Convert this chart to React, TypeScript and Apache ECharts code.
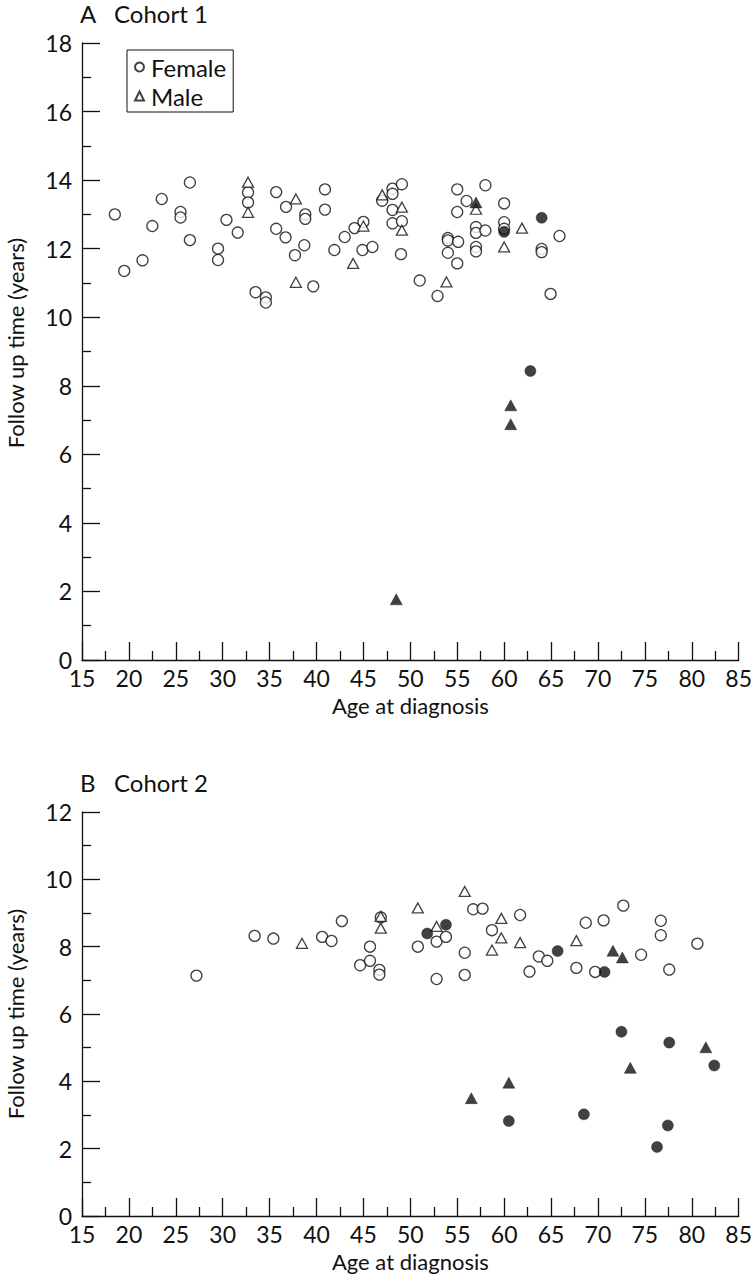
import React, { useEffect, useRef } from "react";
import * as echarts from "echarts";

// Cohort 1 (panel A): [age at diagnosis, follow up years]
const cohort1FemaleAlive: number[][] = [
  [18.5, 13.0], [19.5, 11.35], [21.45, 11.66], [22.5, 12.66], [23.5, 13.45], [25.5, 13.07], [25.5, 12.91],
  [26.5, 13.93], [26.5, 12.25], [29.5, 12.0], [29.5, 11.67], [30.4, 12.84], [31.6, 12.47], [32.7, 13.64],
  [32.7, 13.35], [33.5, 10.73], [34.6, 10.58], [34.6, 10.43], [35.7, 12.58], [35.7, 13.65], [36.75, 13.22],
  [36.7, 12.33], [37.7, 11.81], [38.8, 13.0], [38.8, 12.87], [38.7, 12.1], [39.65, 10.9], [40.9, 13.73],
  [40.9, 13.14], [41.9, 11.96], [43.0, 12.34], [44.05, 12.6], [45.0, 12.78], [44.9, 11.96], [45.96, 12.05],
  [47.0, 13.4], [48.1, 13.75], [48.1, 13.6], [49.1, 13.88], [48.1, 13.13], [48.1, 12.74], [49.1, 12.8],
  [49.0, 11.84], [51.0, 11.07], [52.9, 10.62], [54.0, 12.31], [54.0, 12.24], [55.1, 12.2], [54.0, 11.88],
  [55.0, 11.57], [55.0, 13.73], [56.0, 13.39], [55.0, 13.07], [58.0, 13.85], [57.0, 12.63], [57.0, 12.46],
  [58.0, 12.53], [57.0, 12.05], [57.0, 11.92], [60.0, 13.32], [60.0, 12.77], [60.0, 12.58], [64.0, 11.99],
  [64.0, 11.9], [65.9, 12.37], [64.95, 10.68],
];
const cohort1MaleAlive: number[][] = [
  [32.7, 13.94], [32.7, 13.06], [37.8, 13.45], [37.8, 11.02], [43.9, 11.57], [45.0, 12.66], [47.0, 13.57],
  [49.1, 13.21], [49.1, 12.54], [53.85, 11.03], [57.0, 13.15], [60.0, 12.05], [61.9, 12.6],
];
const cohort1FemaleDied: number[][] = [[60.0, 12.49], [64.0, 12.9], [62.8, 8.43]];
const cohort1MaleDied: number[][] = [[57.0, 13.35], [60.7, 7.43], [60.7, 6.88], [48.5, 1.77]];

// Cohort 2 (panel B)
const cohort2FemaleAlive: number[][] = [
  [27.2, 7.14], [33.4, 8.32], [35.4, 8.24], [40.6, 8.29], [41.6, 8.17], [42.7, 8.76], [44.65, 7.45],
  [45.7, 8.0], [45.7, 7.58], [46.85, 8.87], [46.7, 7.31], [46.7, 7.17], [50.8, 8.0], [52.8, 8.15],
  [53.8, 8.29], [52.8, 7.04], [56.7, 9.11], [57.7, 9.13], [55.8, 7.82], [55.8, 7.16], [58.7, 8.49],
  [61.7, 8.94], [62.7, 7.26], [63.7, 7.71], [64.6, 7.58], [68.7, 8.71], [70.6, 8.78], [72.7, 9.22],
  [67.7, 7.37], [69.7, 7.25], [74.6, 7.76], [76.7, 8.77], [76.7, 8.34], [77.6, 7.32], [80.6, 8.09],
];
const cohort2MaleAlive: number[][] = [
  [38.45, 8.1], [46.85, 8.9], [46.85, 8.55], [50.8, 9.15], [52.8, 8.6], [55.8, 9.64], [59.7, 8.84],
  [59.7, 8.26], [58.7, 7.9], [61.7, 8.12], [67.7, 8.18],
];
const cohort2FemaleDied: number[][] = [
  [51.8, 8.39], [53.8, 8.65], [65.7, 7.87], [70.7, 7.25], [72.5, 5.47], [77.6, 5.15], [82.4, 4.47],
  [60.5, 2.82], [68.5, 3.02], [77.45, 2.69], [76.3, 2.05],
];
const cohort2MaleDied: number[][] = [
  [71.6, 7.88], [72.6, 7.68], [81.5, 5.01], [73.45, 4.4], [60.5, 3.96], [56.5, 3.5],
];

const panelLetters = ["A", "B"];
const panelNames = ["Cohort 1", "Cohort 2"];
const legendNames = ["Female", "Male"];
const xName = "Age at diagnosis";
const yName = "Follow up time (years)";
const yMax = [18, 12];

const FONT = "Lato, 'DejaVu Sans', sans-serif";
const INK = "#111";

function xAxis(gridIndex: number) {
  return {
    type: "value",
    gridIndex,
    min: 15,
    max: 85,
    interval: 5,
    name: xName,
    nameLocation: "middle",
    nameGap: 34,
    nameTextStyle: { fontSize: 22, color: INK, fontFamily: FONT, lineHeight: 22 },
    axisLine: { show: true, onZero: false, lineStyle: { color: INK, width: 1.3 } },
    axisTick: { show: true, inside: true, length: 18, lineStyle: { color: INK, width: 1.3 } },
    minorTick: { show: true, splitNumber: 2, length: 9, lineStyle: { color: INK, width: 1.3 } },
    axisLabel: { fontSize: 23, color: INK, fontFamily: FONT, margin: 9, lineHeight: 18 },
    splitLine: { show: false },
  };
}

function yAxis(gridIndex: number, max: number) {
  return {
    type: "value",
    gridIndex,
    min: 0,
    max,
    interval: 2,
    axisLine: { show: true, onZero: false, lineStyle: { color: INK, width: 1.3 } },
    axisTick: { show: true, inside: true, length: 18, lineStyle: { color: INK, width: 1.3 } },
    minorTick: { show: true, splitNumber: 2, length: 9, lineStyle: { color: INK, width: 1.3 } },
    axisLabel: { fontSize: 23, color: INK, fontFamily: FONT, margin: 10, lineHeight: 10 },
    splitLine: { show: false },
  };
}

function openSeries(name: string, data: number[][], symbol: string, idx: number) {
  return {
    type: "scatter",
    name,
    xAxisIndex: idx,
    yAxisIndex: idx,
    data,
    symbol,
    symbolSize: symbol === "circle" ? 11 : [11, 10],
    itemStyle: { color: "#fff", borderColor: INK, borderWidth: 1.3 },
    z: 2,
  };
}

function filledSeries(name: string, data: number[][], symbol: string, idx: number) {
  return {
    type: "scatter",
    name,
    xAxisIndex: idx,
    yAxisIndex: idx,
    data,
    symbol,
    symbolSize: symbol === "circle" ? 11 : [12, 11],
    itemStyle: { color: INK, borderColor: INK, borderWidth: 0.5 },
    z: 3,
  };
}

function txt(text: string, x: number, y: number, size: number, align = "left", valign = "alphabetic", rotation = 0) {
  return {
    type: "text",
    x,
    y,
    rotation,
    style: {
      text,
      fontSize: size,
      fontFamily: FONT,
      fill: INK,
      align,
      verticalAlign: valign,
    },
  };
}

export default function App() {
  const ref = useRef<HTMLDivElement>(null);
  useEffect(() => {
    if (!ref.current) return;
    const chart = echarts.init(ref.current, null, { renderer: "svg" });
    chart.setOption({
      animation: false,
      backgroundColor: "#fff",
      textStyle: { fontFamily: FONT },
      graphic: [
        txt(panelLetters[0], 80, 13, 24, "left", "middle"),
        txt(panelNames[0], 114, 13, 24, "left", "middle"),
        txt(panelLetters[1], 80, 782, 24, "left", "middle"),
        txt(panelNames[1], 114, 782, 24, "left", "middle"),
        txt(yName, 15, 343, 22, "center", "middle", Math.PI / 2),
        txt(yName, 15, 1014, 22, "center", "middle", Math.PI / 2),
      ],
      legend: {
        data: legendNames,
        orient: "vertical",
        left: 127,
        top: 50,
        itemWidth: 9,
        itemHeight: 9,
        itemGap: 5,
        padding: [5, 7, 4, 7],
        borderColor: INK,
        borderWidth: 1,
        textStyle: { fontSize: 24, color: INK, fontFamily: FONT, padding: [0, 0, 0, 2] },
        selectedMode: false,
      },
      grid: [
        { left: 82, top: 43, width: 659, height: 617 },
        { left: 82, top: 812, width: 660, height: 404 },
      ],
      xAxis: [xAxis(0), xAxis(1)],
      yAxis: [yAxis(0, yMax[0]), yAxis(1, yMax[1])],
      series: [
        openSeries(legendNames[0], cohort1FemaleAlive, "circle", 0),
        openSeries(legendNames[1], cohort1MaleAlive, "triangle", 0),
        filledSeries("Female died", cohort1FemaleDied, "circle", 0),
        filledSeries("Male died", cohort1MaleDied, "triangle", 0),
        openSeries(legendNames[0], cohort2FemaleAlive, "circle", 1),
        openSeries(legendNames[1], cohort2MaleAlive, "triangle", 1),
        filledSeries("Female died", cohort2FemaleDied, "circle", 1),
        filledSeries("Male died", cohort2MaleDied, "triangle", 1),
      ],
    });
    return () => chart.dispose();
  }, []);
  return (
    <div
      ref={ref}
      style={{ position: "absolute", left: 0, top: 0, width: 755, height: 1280, background: "#fff" }}
    />
  );
}
